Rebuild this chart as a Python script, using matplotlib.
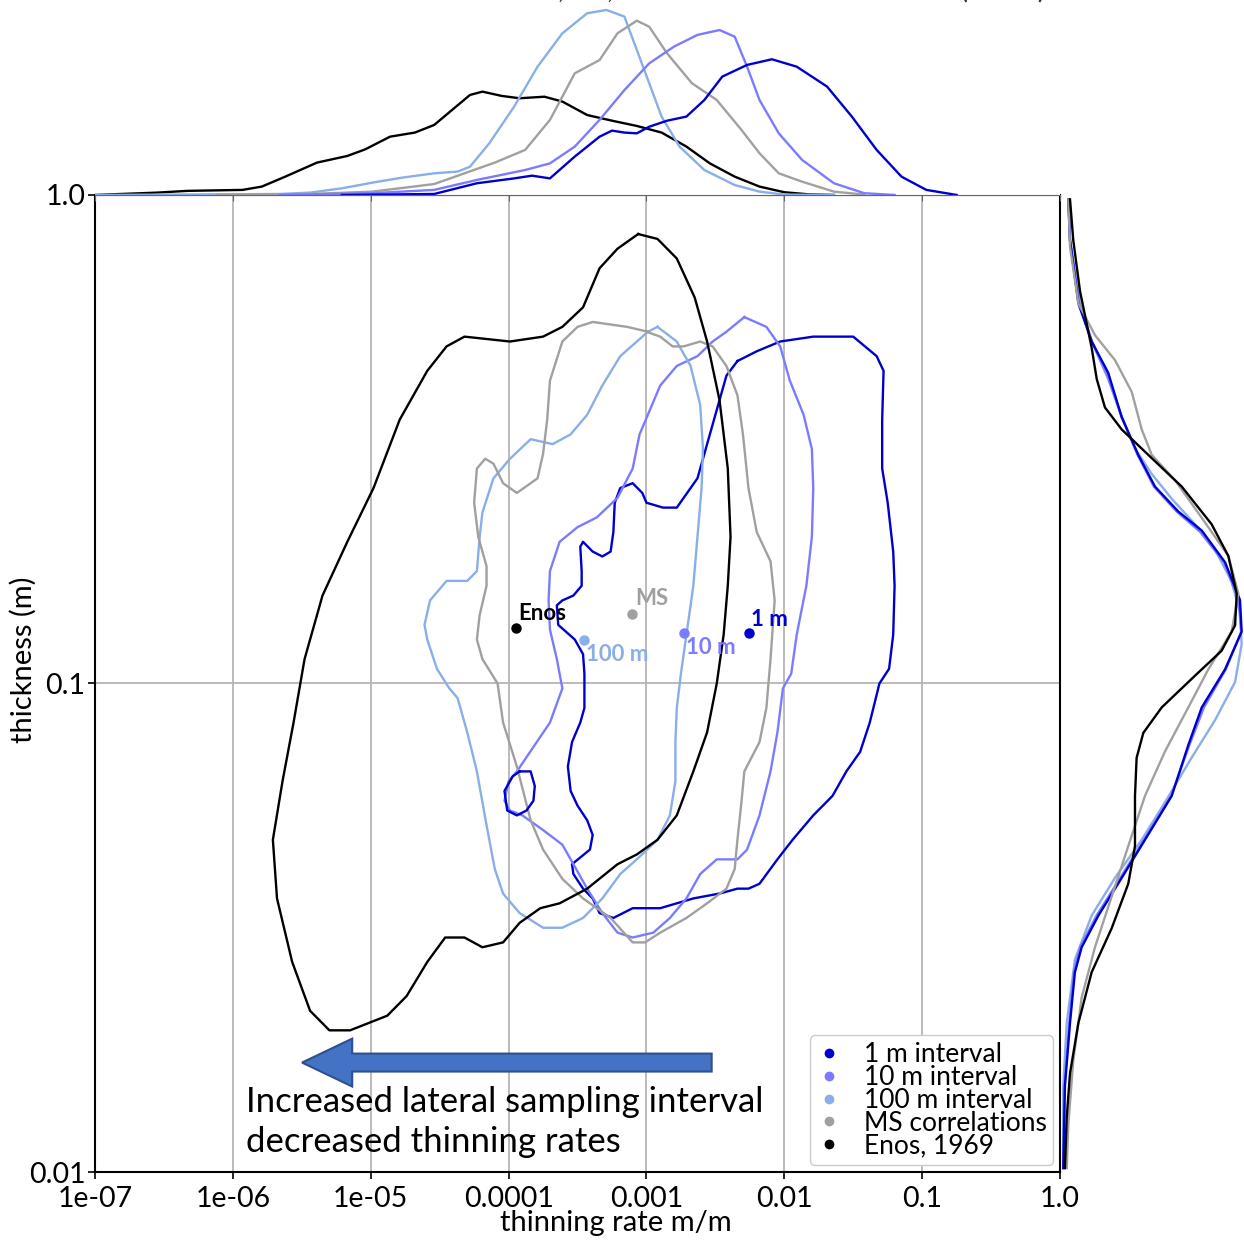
import numpy as np
import matplotlib.pyplot as plt
from matplotlib.patches import FancyArrow

plt.rcParams['font.family'] = ['Lato', 'DejaVu Sans']

# colours of the five groups
c_1m = '#0000cd'
c_10m = '#7b7bff'
c_100m = '#8aaee8'
c_ms = '#a0a0a0'
c_enos = '#000000'

# contour lines (log10 thinning rate, log10 thickness)
enos_cx = [-3.06, -2.92, -2.78, -2.65, -2.56, -2.47, -2.41, -2.39, -2.41, -2.44, -2.49, -2.56, -2.66,
           -2.78, -2.92, -3.07, -3.21, -3.43, -3.63, -3.77, -3.92, -4.04, -4.19, -4.32, -4.46, -4.59,
           -4.74, -4.88, -5.15, -5.30, -5.44, -5.57, -5.68, -5.71, -5.64, -5.56, -5.48, -5.35, -5.17,
           -4.98, -4.79, -4.59, -4.45, -4.32, -3.99, -3.75, -3.61, -3.46, -3.34, -3.21]
enos_cy = [-0.08, -0.09, -0.13, -0.21, -0.30, -0.42, -0.56, -0.70, -0.80, -0.90, -1.00, -1.10, -1.18,
           -1.27, -1.32, -1.35, -1.37, -1.42, -1.45, -1.46, -1.49, -1.53, -1.54, -1.52, -1.52, -1.57,
           -1.64, -1.68, -1.71, -1.71, -1.67, -1.57, -1.44, -1.32, -1.20, -1.08, -0.95, -0.82, -0.71,
           -0.60, -0.46, -0.36, -0.31, -0.29, -0.30, -0.29, -0.27, -0.23, -0.15, -0.11]

ms_cx = [-2.99, -3.14, -3.39, -3.50, -3.61, -3.70, -3.72, -3.75, -3.79, -3.94, -4.04, -4.11, -4.17,
         -4.23, -4.25, -4.22, -4.16, -4.16, -4.21, -4.23, -4.19, -4.08, -4.04, -3.94, -3.84, -3.75,
         -3.61, -3.46, -3.26, -3.10, -3.01, -2.90, -2.71, -2.56, -2.42, -2.36, -2.34, -2.31, -2.29,
         -2.18, -2.13, -2.10, -2.07, -2.10, -2.20, -2.26, -2.30, -2.34, -2.42, -2.52, -2.61, -2.73,
         -2.81, -2.90, -3.00]
ms_cy = [-0.28, -0.27, -0.26, -0.27, -0.30, -0.38, -0.46, -0.53, -0.58, -0.61, -0.59, -0.55, -0.54,
         -0.56, -0.63, -0.70, -0.76, -0.80, -0.86, -0.91, -0.95, -1.00, -1.08, -1.17, -1.28, -1.34,
         -1.40, -1.44, -1.48, -1.53, -1.53, -1.51, -1.48, -1.45, -1.42, -1.38, -1.32, -1.24, -1.18,
         -1.12, -1.05, -0.95, -0.83, -0.75, -0.69, -0.60, -0.49, -0.41, -0.35, -0.31, -0.30, -0.31,
         -0.31, -0.29, -0.28]

m100_cx = [-2.92, -2.78, -2.68, -2.61, -2.59, -2.60, -2.63, -2.66, -2.71, -2.75, -2.78, -2.79, -2.79,
           -2.83, -2.92, -3.07, -3.19, -3.32, -3.46, -3.61, -3.75, -3.92, -4.04, -4.10, -4.16, -4.23,
           -4.30, -4.37, -4.43, -4.52, -4.59, -4.61, -4.57, -4.45, -4.30, -4.23, -4.21, -4.19, -4.11,
           -3.99, -3.84, -3.68, -3.55, -3.43, -3.32, -3.19, -3.07, -2.99]
m100_cy = [-0.27, -0.30, -0.35, -0.43, -0.52, -0.60, -0.70, -0.80, -0.90, -0.98, -1.05, -1.12, -1.20,
           -1.27, -1.32, -1.36, -1.39, -1.44, -1.48, -1.50, -1.50, -1.47, -1.43, -1.38, -1.29, -1.18,
           -1.10, -1.03, -1.01, -0.97, -0.91, -0.88, -0.83, -0.79, -0.79, -0.77, -0.70, -0.65, -0.58,
           -0.54, -0.50, -0.51, -0.49, -0.45, -0.39, -0.33, -0.30, -0.28]

m10_cx = [-2.29, -2.13, -2.03, -1.96, -1.86, -1.80, -1.79, -1.80, -1.84, -1.91, -1.95, -2.01, -2.05,
          -2.10, -2.18, -2.27, -2.34, -2.49, -2.61, -2.71, -2.83, -2.95, -3.10, -3.21, -3.32, -3.43,
          -3.53, -3.61, -3.75, -3.90, -3.99, -4.03, -4.00, -3.94, -3.82, -3.70, -3.61, -3.65, -3.70,
          -3.71, -3.70, -3.63, -3.50, -3.36, -3.21, -3.10, -3.05, -2.90, -2.78, -2.63, -2.52, -2.42]
m10_cy = [-0.25, -0.27, -0.31, -0.38, -0.45, -0.52, -0.60, -0.70, -0.80, -0.90, -0.98, -1.01, -1.10,
          -1.18, -1.27, -1.34, -1.36, -1.36, -1.39, -1.44, -1.48, -1.51, -1.52, -1.51, -1.47, -1.42,
          -1.37, -1.33, -1.30, -1.27, -1.26, -1.24, -1.20, -1.18, -1.13, -1.08, -1.01, -0.95, -0.89,
          -0.83, -0.77, -0.71, -0.68, -0.66, -0.62, -0.56, -0.49, -0.39, -0.35, -0.33, -0.30, -0.28]

m1_cx = [-2.34, -2.20, -2.03, -1.79, -1.60, -1.50, -1.33, -1.28, -1.29, -1.29, -1.25, -1.21, -1.20,
         -1.21, -1.24, -1.31, -1.38, -1.45, -1.55, -1.65, -1.79, -1.94, -2.05, -2.18, -2.26, -2.34,
         -2.47, -2.66, -2.90, -3.10, -3.24, -3.34, -3.39, -3.46, -3.53, -3.54, -3.41, -3.39, -3.43,
         -3.50, -3.55, -3.57, -3.54, -3.48, -3.45, -3.45, -3.46, -3.52, -3.64, -3.65, -3.61, -3.53,
         -3.47, -3.47, -3.48, -3.46, -3.39, -3.32, -3.26, -3.24, -3.23, -3.19, -3.10, -3.03, -3.00,
         -2.88, -2.78, -2.63, -2.58, -2.49, -2.42]
m1_cy = [-0.34, -0.32, -0.30, -0.29, -0.29, -0.29, -0.33, -0.36, -0.46, -0.56, -0.63, -0.73, -0.80,
         -0.90, -0.97, -1.00, -1.08, -1.14, -1.18, -1.23, -1.27, -1.32, -1.36, -1.41, -1.42, -1.42,
         -1.43, -1.44, -1.46, -1.46, -1.48, -1.47, -1.44, -1.42, -1.39, -1.37, -1.34, -1.31, -1.28,
         -1.25, -1.22, -1.17, -1.12, -1.08, -1.05, -0.98, -0.94, -0.91, -0.88, -0.84, -0.83, -0.82,
         -0.80, -0.77, -0.72, -0.71, -0.73, -0.74, -0.73, -0.69, -0.63, -0.60, -0.59, -0.61, -0.63,
         -0.64, -0.64, -0.58, -0.53, -0.44, -0.37]
# small island of the 1 m contour
m1_ix = [-3.92, -3.84, -3.81, -3.82, -3.87, -3.94, -4.01, -4.03, -3.97]
m1_iy = [-1.18, -1.18, -1.21, -1.24, -1.26, -1.27, -1.26, -1.22, -1.19]

# medians
names = ['1 m', '10 m', '100 m', 'MS', 'Enos']
med_x = [5.5e-3, 1.87e-3, 3.5e-4, 7.9e-4, 1.13e-4]
med_y = [0.127, 0.127, 0.123, 0.139, 0.130]
legend_labels = ['1 m interval', '10 m interval', '100 m interval', 'MS correlations', 'Enos, 1969']
colors = [c_1m, c_10m, c_100m, c_ms, c_enos]

# top marginal KDE (log10 thinning rate, density)
top_x_enos = [-7.00, -6.55, -6.33, -5.93, -5.79, -5.62, -5.39, -5.17, -5.04, -4.86, -4.68, -4.54, -4.41,
              -4.28, -4.19, -4.05, -3.92, -3.74, -3.61, -3.43, -3.25, -3.07, -2.89, -2.71, -2.54, -2.36,
              -2.18, -2.00, -1.82, -1.64]
top_d_enos = [0, 0.012, 0.021, 0.026, 0.043, 0.094, 0.166, 0.200, 0.234, 0.299, 0.320, 0.359, 0.436,
              0.513, 0.530, 0.508, 0.496, 0.504, 0.479, 0.410, 0.381, 0.354, 0.320, 0.248, 0.162, 0.094,
              0.043, 0.014, 0.003, 0]
top_x_100 = [-7.00, -5.66, -5.44, -5.21, -4.99, -4.77, -4.54, -4.37, -4.28, -4.14, -3.96, -3.79, -3.61,
             -3.43, -3.29, -3.16, -3.07, -2.98, -2.89, -2.76, -2.58, -2.36, -2.18, -2.00, -1.64]
top_d_100 = [0, 0.005, 0.012, 0.034, 0.063, 0.089, 0.111, 0.120, 0.145, 0.265, 0.453, 0.658, 0.829,
             0.932, 0.949, 0.915, 0.744, 0.573, 0.402, 0.248, 0.128, 0.051, 0.017, 0.002, 0]
top_x_ms = [-6.11, -5.44, -4.99, -4.54, -4.32, -4.10, -3.88, -3.70, -3.52, -3.34, -3.21, -3.07, -2.98,
            -2.85, -2.67, -2.49, -2.31, -2.18, -2.04, -1.87, -1.64, -1.42]
top_d_ms = [0, 0.005, 0.017, 0.056, 0.111, 0.166, 0.231, 0.385, 0.624, 0.692, 0.829, 0.894, 0.863,
            0.726, 0.573, 0.487, 0.333, 0.214, 0.111, 0.068, 0.017, 0.002]
top_x_10 = [-5.66, -4.99, -4.54, -4.23, -3.88, -3.70, -3.52, -3.34, -3.16, -2.98, -2.80, -2.63, -2.47,
            -2.36, -2.27, -2.18, -2.04, -1.87, -1.64, -1.42, -1.20]
top_d_10 = [0, 0.009, 0.026, 0.077, 0.128, 0.162, 0.248, 0.385, 0.538, 0.675, 0.761, 0.821, 0.846,
            0.812, 0.658, 0.487, 0.316, 0.179, 0.060, 0.009, 0]
top_x_1 = [-5.21, -4.54, -4.23, -3.96, -3.83, -3.70, -3.52, -3.34, -3.25, -3.16, -3.07, -2.98, -2.85,
           -2.71, -2.58, -2.45, -2.27, -2.09, -1.91, -1.69, -1.51, -1.33, -1.15, -0.97, -0.75]
top_d_1 = [0, 0.005, 0.060, 0.085, 0.099, 0.085, 0.197, 0.299, 0.330, 0.320, 0.316, 0.350, 0.381,
           0.402, 0.487, 0.607, 0.667, 0.696, 0.658, 0.556, 0.402, 0.231, 0.094, 0.026, 0]

# right marginal KDE (log10 thickness, density)
rt_y_enos = [-0.009, -0.093, -0.197, -0.313, -0.377, -0.435, -0.480, -0.532, -0.597, -0.674, -0.739,
             -0.816, -0.881, -0.933, -0.984, -1.049, -1.101, -1.152, -1.230, -1.333, -1.410, -1.501,
             -1.591, -1.695, -1.798, -1.888, -1.992]
rt_d_enos = [0.044, 0.062, 0.099, 0.163, 0.191, 0.236, 0.328, 0.474, 0.658, 0.822, 0.914, 0.960, 0.951,
             0.877, 0.731, 0.548, 0.447, 0.410, 0.401, 0.401, 0.364, 0.273, 0.163, 0.090, 0.044, 0.026,
             0.016]
rt_y_ms = [-0.009, -0.106, -0.222, -0.287, -0.338, -0.403, -0.480, -0.532, -0.584, -0.661, -0.739,
           -0.816, -0.894, -0.971, -1.049, -1.139, -1.230, -1.333, -1.436, -1.540, -1.643, -1.772,
           -1.901, -1.992]
rt_d_ms = [0.035, 0.044, 0.090, 0.181, 0.291, 0.383, 0.438, 0.493, 0.621, 0.768, 0.914, 0.969, 0.932,
           0.804, 0.694, 0.566, 0.456, 0.364, 0.273, 0.181, 0.108, 0.062, 0.035, 0.026]
rt_y_1 = [-0.009, -0.093, -0.222, -0.300, -0.364, -0.455, -0.532, -0.597, -0.648, -0.687, -0.752,
          -0.829, -0.894, -0.971, -1.049, -1.126, -1.230, -1.320, -1.398, -1.475, -1.540, -1.591,
          -1.695, -1.824, -1.992]
rt_d_1 = [0.035, 0.044, 0.090, 0.163, 0.254, 0.328, 0.419, 0.511, 0.639, 0.768, 0.896, 0.978, 0.987,
          0.896, 0.768, 0.694, 0.603, 0.456, 0.328, 0.200, 0.108, 0.071, 0.044, 0.016, 0.007]
rt_y_10 = [-0.009, -0.093, -0.222, -0.300, -0.370, -0.455, -0.532, -0.597, -0.648, -0.690, -0.752,
           -0.829, -0.894, -0.971, -1.049, -1.126, -1.230, -1.320, -1.398, -1.475, -1.540, -1.591,
           -1.695, -1.824, -1.992]
rt_d_10 = [0.035, 0.044, 0.095, 0.165, 0.250, 0.330, 0.415, 0.505, 0.630, 0.760, 0.890, 0.970, 0.985,
           0.900, 0.780, 0.700, 0.600, 0.450, 0.320, 0.190, 0.100, 0.065, 0.040, 0.014, 0.006]
rt_y_100 = [-0.009, -0.093, -0.222, -0.300, -0.377, -0.455, -0.519, -0.571, -0.622, -0.674, -0.726,
            -0.791, -0.855, -0.920, -0.997, -1.075, -1.152, -1.243, -1.320, -1.398, -1.475, -1.565,
            -1.695, -1.824, -1.992]
rt_d_100 = [0.035, 0.044, 0.099, 0.163, 0.254, 0.328, 0.401, 0.493, 0.603, 0.731, 0.841, 0.932, 0.978,
            0.987, 0.951, 0.841, 0.712, 0.566, 0.438, 0.291, 0.163, 0.071, 0.026, 0.007, 0.0]

xtick_vals = [1e-7, 1e-6, 1e-5, 1e-4, 1e-3, 1e-2, 1e-1, 1.0]
xtick_labels = ['1e-07', '1e-06', '1e-05', '0.0001', '0.001', '0.01', '0.1', '1.0']
ytick_vals = [0.01, 0.1, 1.0]
ytick_labels = ['0.01', '0.1', '1.0']


def p10(v):
    return 10 ** np.array(v)


def closed(a):
    return list(a) + [a[0]]


fig = plt.figure(figsize=(12.44, 12.41), dpi=100)
ax = fig.add_axes([0.0764, 0.0556, 0.7757, 0.7873])
axt = fig.add_axes([0.0764, 0.8429, 0.7757, 0.1571], sharex=ax)
axr = fig.add_axes([0.8537, 0.0556, 0.1463, 0.7873], sharey=ax)

lw = 1.7
contours = [(m1_cx, m1_cy, c_1m), (m10_cx, m10_cy, c_10m), (m100_cx, m100_cy, c_100m),
            (ms_cx, ms_cy, c_ms), (enos_cx, enos_cy, c_enos)]
for cx, cy, col in contours:
    ax.plot(p10(closed(cx)), p10(closed(cy)), color=col, lw=lw, zorder=3)
ax.plot(p10(closed(m1_ix)), p10(closed(m1_iy)), color=c_1m, lw=lw, zorder=3)

for i in range(5):
    ax.plot(med_x[i], med_y[i], 'o', color=colors[i], ms=6.5, zorder=5)

lab_off = [(1.5, 2), (1.5, -3), (1.5, -3), (2, 3), (1.5, 3)]
lab_va = ['bottom', 'top', 'top', 'bottom', 'bottom']
for i in range(5):
    ax.annotate(names[i], (med_x[i], med_y[i]), xytext=lab_off[i], textcoords='offset points',
                color=colors[i], fontsize=16, fontweight='bold', ha='left', va=lab_va[i], zorder=6)

ax.set_xscale('log')
ax.set_yscale('log')
ax.set_xlim(1e-7, 1.0)
ax.set_ylim(0.01, 1.0)
ax.set_xticks(xtick_vals)
ax.set_xticklabels(xtick_labels)
ax.set_yticks(ytick_vals)
ax.set_yticklabels(ytick_labels)
ax.minorticks_off()
ax.tick_params(labelsize=20.5, length=5, width=1.2)
ax.tick_params(axis='x', pad=5)
ax.tick_params(axis='y', pad=2)
ax.grid(True, color='#b5b5b5', lw=1.3)
ax.set_axisbelow(True)
for s in ax.spines.values():
    s.set_linewidth(1.5)
ax.set_xlabel('thinning rate m/m', fontsize=21)
ax.set_ylabel('thickness (m)', fontsize=21)
ax.xaxis.set_label_coords(0.54, -0.039)
ax.yaxis.set_label_coords(-0.06, 0.524)

# arrow and note
ax.add_patch(FancyArrow(0.639, 0.112, -0.4245, 0, width=0.0184, head_width=0.049, head_length=0.052,
                        length_includes_head=True, transform=ax.transAxes, fc='#4472c4',
                        ec='#2f4f8f', lw=1.5, zorder=4))
ax.text(0.1565, 0.088, 'Increased lateral sampling interval\ndecreased thinning rates',
        transform=ax.transAxes, fontsize=25, ha='left', va='top', linespacing=1.3, zorder=4)

handles = [plt.Line2D([], [], ls='', marker='o', ms=6, color=c) for c in colors]
ax.legend(handles, legend_labels, loc='lower right', bbox_to_anchor=(0.993, 0.007),
          borderaxespad=0, fontsize=19, labelspacing=-0.08, handletextpad=0.8,
          handlelength=1.0, borderpad=0.25, framealpha=1, edgecolor='#cccccc')

# top marginal
tops = [(top_x_enos, top_d_enos, c_enos), (top_x_100, top_d_100, c_100m), (top_x_ms, top_d_ms, c_ms),
        (top_x_10, top_d_10, c_10m), (top_x_1, top_d_1, c_1m)]
for tx, td, col in tops:
    axt.plot(p10(tx), td, color=col, lw=lw)
axt.set_ylim(0, 1.0)
for k in ['top', 'right', 'left']:
    axt.spines[k].set_visible(False)
axt.spines['bottom'].set_color('#666666')
axt.tick_params(axis='x', labelbottom=False, length=4, color='#666666')
axt.tick_params(axis='y', left=False, labelleft=False)

# right marginal
rights = [(rt_y_100, rt_d_100, c_100m), (rt_y_10, rt_d_10, c_10m), (rt_y_1, rt_d_1, c_1m),
          (rt_y_ms, rt_d_ms, c_ms), (rt_y_enos, rt_d_enos, c_enos)]
for ry, rd, col in rights:
    axr.plot(rd, p10(ry), color=col, lw=lw)
axr.set_xlim(0, 1.0)
for k in axr.spines:
    axr.spines[k].set_visible(False)
axr.tick_params(axis='y', left=False, labelleft=False)
axr.tick_params(axis='x', bottom=False, labelbottom=False)
axr.minorticks_off()

fig.text(0.506, 1.002, 'Sandstones measured at 1, 10, 100 m intervals and Enos (1969)',
         ha='center', va='baseline', fontsize=21.5, color='#333333')

fig.savefig('out.png', dpi=100)
